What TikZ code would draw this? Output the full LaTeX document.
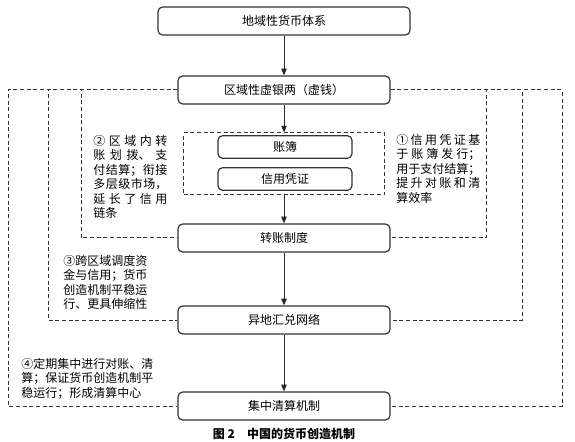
\documentclass[tikz,border=0pt]{standalone}
\usepackage{fontspec}
\setmainfont{Noto Sans CJK SC}
\usetikzlibrary{arrows.meta}
\XeTeXlinebreaklocale "zh"
\XeTeXlinebreakskip=0pt plus 2pt
\hbadness=10000

\begin{document}
\begin{tikzpicture}[x=0.75pt,y=-0.75pt,
  box/.style={draw=black!80,line width=0.9pt,rounded corners=3.5pt,minimum width=159pt,minimum height=21pt,inner sep=0pt,font=\fontsize{9}{10.8}\selectfont},
  inbox/.style={box,minimum width=100.5pt,minimum height=17pt},
  dline/.style={draw=black!80,line width=0.75pt,dash pattern=on 3pt off 2pt},
  note/.style={anchor=north west,inner sep=0pt,align=justify,font=\fontsize{9}{10.8}\selectfont},
  arr/.style={draw=black!85,line width=0.75pt,-{Triangle[length=5pt,width=4pt]}}]
  \useasboundingbox (0,0) rectangle (575,442);
  % main chain
  \node[box,minimum width=189pt] (dyx) at (284,21) {地域性货币体系};
  \node[box] (xyl) at (284,90) {区域性虚银两（虚钱）};
  \node[dline,minimum width=150.75pt,minimum height=46.5pt] (zbbox) at (284,164) {};
  \node[inbox] (zb) at (285,147) {账簿};
  \node[inbox] (xypz) at (285,179) {信用凭证};
  \node[box] (zzzd) at (284,238) {转账制度};
  \node[box] (ydhd) at (284,320) {异地汇兑网络};
  \node[box] (jzqs) at (284,406) {集中清算机制};
  \draw[arr] (dyx) -- (xyl);
  \draw[arr] (xyl) -- (zbbox);
  \draw[arr] (zbbox) -- (zzzd);
  \draw[arr] (zzzd) -- (ydhd);
  \draw[arr] (ydhd) -- (jzqs);
  % dashed feedback lines
  \draw[dline] (xyl.west) -| (8,406) -- (jzqs.west);
  \draw[dline] (xyl.west) -| (48,320) -- (ydhd.west);
  \draw[dline] (xyl.west) -| (81,238) -- (zzzd.west);
  \draw[dline] (xyl.east) -| (562,406) -- (jzqs.east);
  \draw[dline] (xyl.east) -| (522,320) -- (ydhd.east);
  \draw[dline] (xyl.east) -| (486,238) -- (zzzd.east);
  % notes
  \node[note,text width=55.5pt] (n2) at (93,135) {②区域内转\linebreak 账划拨、支\linebreak 付结算；衔接\linebreak 多层级市场，\linebreak 延长了信用\linebreak 链条};
  \node[note,text width=63pt] (n1) at (396,134) {①信用凭证基\linebreak 于账簿发行；\linebreak 用于支付结算；\linebreak 提升对账和清\linebreak 算效率};
  \node[note,text width=63pt] (n3) at (63,255) {③跨区域调度资\linebreak 金与信用；货币\linebreak 创造机制平稳运\linebreak 行、更具伸缩性};
  \node[note,text width=99pt] (n4) at (21,358) {④定期集中进行对账、清\linebreak 算；保证货币创造机制平\linebreak 稳运行；形成清算中心};
  \node[font=\fontsize{9}{10.8}\selectfont\bfseries] (cap) at (284,434) {图 2\quad 中国的货币创造机制};
\end{tikzpicture}
\end{document}
